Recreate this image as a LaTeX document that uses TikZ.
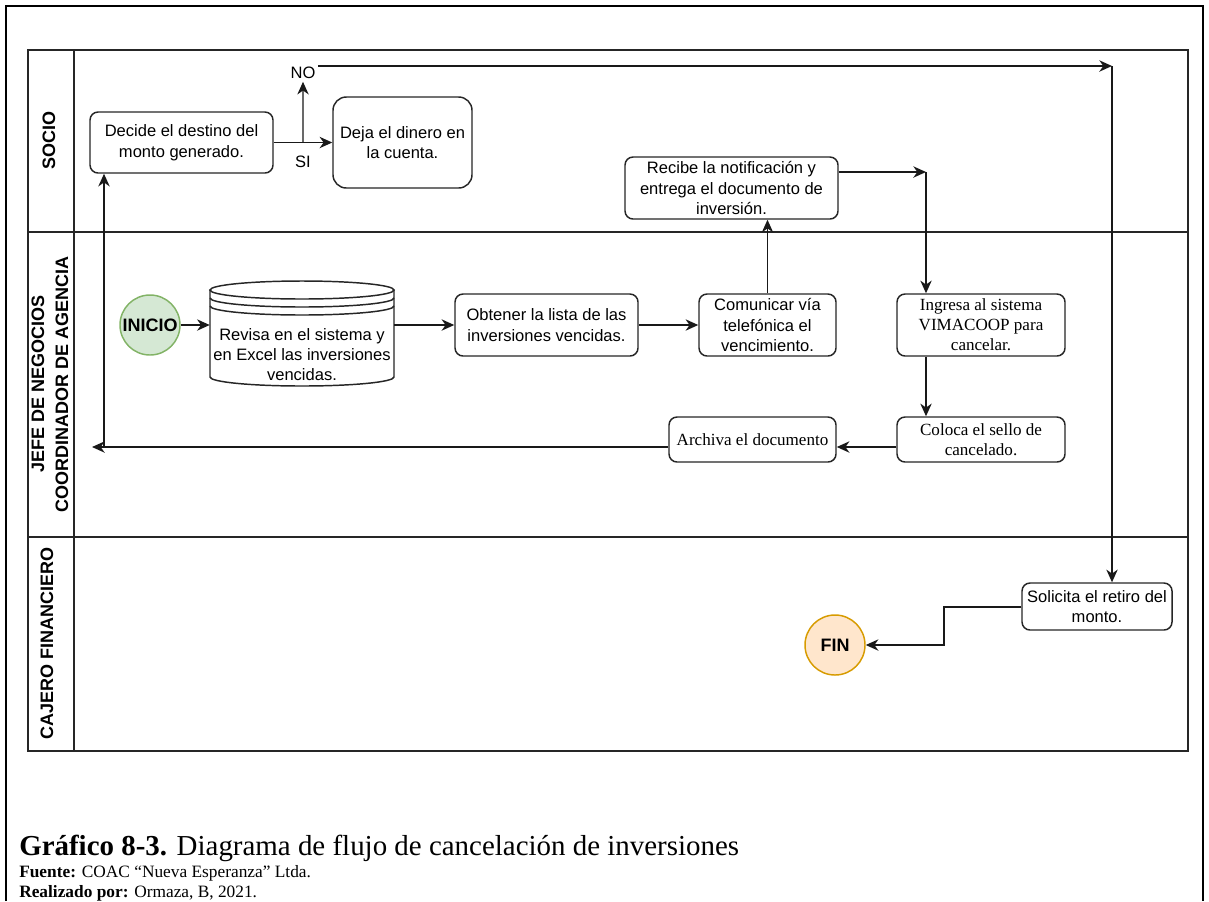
\documentclass[tikz,border=0pt]{standalone}
\usepackage{fontspec}
\setmainfont{Liberation Serif}
\setsansfont{Liberation Sans}
\usetikzlibrary{arrows.meta,calc}
\definecolor{inifill}{HTML}{D5E8D4}
\definecolor{inidraw}{HTML}{82B366}
\definecolor{finfill}{HTML}{FFE6CC}
\definecolor{findraw}{HTML}{D79B00}
\begin{document}
\begin{tikzpicture}[x=0.75pt,y=-0.75pt,
  flowbox/.style={draw=black!85, fill=white, line width=1.1pt, rounded corners=6pt, align=center, inner sep=0pt, font=\sffamily\fontsize{12.4}{15.5}\selectfont},
  serifbox/.style={flowbox, font=\rmfamily\fontsize{12.8}{15}\selectfont},
  plaintext/.style={inner sep=2pt, font=\sffamily\fontsize{12.4}{15}\selectfont},
  conn/.style={draw=black!90, line width=1.1pt},
  arr/.style={conn, -{Stealth[length=9.5pt,width=8.5pt,inset=3pt]}},
  lanelabel/.style={rotate=90, font=\sffamily\bfseries\fontsize{13.5}{18}\selectfont, align=center, inner sep=0pt},
  poolline/.style={draw=black!85, line width=1.5pt},
  cylline/.style={draw=black!85, line width=1.1pt},
  terminal/.style={circle, minimum size=45pt, inner sep=0pt, line width=1.1pt, font=\sffamily\bfseries\fontsize{13.5}{16}\selectfont}
]
\useasboundingbox (0,0) rectangle (1209,901);
% outer frame
\draw[line width=2pt] (6,901) -- (6,6) -- (1203,6) -- (1203,901);
% pool
\draw[poolline] (28,50) rectangle (1188,751);
\draw[poolline] (74,50) -- (74,751);
\draw[poolline] (28,232) -- (1188,232);
\draw[poolline] (28,537) -- (1188,537);
\node[lanelabel] (lsocio) at (49,140) {SOCIO};
\node[lanelabel] (ljefe) at (50,384) {JEFE DE NEGOCIOS\\COORDINADOR DE AGENCIA};
\node[lanelabel] (lcajero) at (47,643) {CAJERO FINANCIERO};

% nodes
\node[flowbox, minimum width=137.25pt, minimum height=45.75pt] (decide) at (181.5,142.5) {Decide el destino del\\monto generado.};
\node[flowbox, rounded corners=10pt, minimum width=104.25pt, minimum height=68.25pt] (deja) at (402.5,142.5) {Deja el dinero en\\la cuenta.};
\node[flowbox, minimum width=159.75pt, minimum height=46.5pt] (recibe) at (731.5,188) {Recibe la notificación y\\entrega el documento de\\inversión.};
\node[terminal, draw=inidraw, fill=inifill] (inicio) at (150,325) {INICIO};
% cylinder (data store)
\node[minimum width=138pt, minimum height=78.75pt, inner sep=0pt] (cyl) at (302,334.5) {};
\fill[white] (210,290) -- (210,377) arc[start angle=180,end angle=360,x radius=69pt,y radius=6.75pt] -- (394,290) arc[start angle=0,end angle=180,x radius=69pt,y radius=6.75pt] -- cycle;
\draw[cylline] (210,290) -- (210,377) arc[start angle=180,end angle=360,x radius=69pt,y radius=6.75pt] -- (394,290);
\draw[cylline] (302,290) ellipse [x radius=69pt, y radius=6.75pt];
\draw[cylline] (210,298) arc[start angle=180,end angle=360,x radius=69pt,y radius=6.75pt];
\draw[cylline] (210,306) arc[start angle=180,end angle=360,x radius=69pt,y radius=6.75pt];
\node[align=center, inner sep=0pt, font=\sffamily\fontsize{12.4}{15}\selectfont] (cyltext) at (302,355) {Revisa en el sistema y\\en Excel las inversiones\\vencidas.};
\node[flowbox, minimum width=137.25pt, minimum height=46.5pt] (obtener) at (546.5,325) {Obtener la lista de las\\inversiones vencidas.};
\node[flowbox, minimum width=102.75pt, minimum height=46.5pt] (comunicar) at (767.5,325) {Comunicar vía\\telefónica el\\vencimiento.};
\node[serifbox, minimum width=126pt, minimum height=46.5pt] (ingresa) at (981,325) {Ingresa al sistema\\VIMACOOP para\\cancelar.};
\node[serifbox, minimum width=126pt, minimum height=33.75pt] (coloca) at (981,439.5) {Coloca el sello de\\cancelado.};
\node[serifbox, minimum width=125.25pt, minimum height=33.75pt] (archiva) at (752.5,439.5) {Archiva el documento};
\node[flowbox, minimum width=112.5pt, minimum height=35.25pt] (solicita) at (1097,606.5) {Solicita el retiro del\\monto.};
\node[terminal, draw=findraw, fill=finfill] (fin) at (835,645) {FIN};

% labels
\node[plaintext] (no) at (303,73) {NO};
\node[plaintext] (si) at (303,162) {SI};

% coordinates
\coordinate (br) at ($(decide.east)!0.5!(deja.west)$);
\coordinate (cno) at (1112,66);
\coordinate (crc) at (926,172);
\coordinate (ya) at (0,447);
\coordinate (cl) at (92,447);
\coordinate (cb) at (104,447);
\coordinate (cf) at (944,607);

% connectors
\draw[arr] (decide.east) -- (deja.west);
\draw[arr] (br) -- (no.south);
\draw[arr] (no.east |- cno) -- (cno);
\draw[arr] (cno) -- (cno |- solicita.north);
\draw[arr] (recibe.east |- crc) -- (crc);
\draw[arr] (crc) -- (crc |- ingresa.north);
\draw[arr] (inicio.east) -- (inicio.east -| cyl.west);
\draw[arr] (cyl.east |- obtener.west) -- (obtener.west);
\draw[arr] (obtener.east) -- (comunicar.west);
\draw[arr] (comunicar.north) -- (comunicar.north |- recibe.south);
\draw[arr] (crc |- ingresa.south) -- (crc |- coloca.north);
\draw[arr] (coloca.west |- ya) -- (archiva.east |- ya);
\draw[arr] (archiva.west |- cl) -- (cl);
\draw[arr] (cb) -- (cb |- decide.south);
\draw[arr] (solicita.west |- cf) -- (cf) |- (fin.east);

% caption
\node[anchor=base west, inner sep=0pt, font=\fontsize{21.7}{26}\selectfont] (cap) at (19,855) {\textbf{Gráfico 8-3.} Diagrama de flujo de cancelación de inversiones};
\node[anchor=base west, inner sep=0pt, font=\fontsize{13}{15}\selectfont] (src) at (19,877) {\textbf{Fuente:} COAC “Nueva Esperanza” Ltda.};
\node[anchor=base west, inner sep=0pt, font=\fontsize{13}{15}\selectfont] (auth) at (19,897) {\textbf{Realizado por:} Ormaza, B, 2021.};
\end{tikzpicture}
\end{document}
